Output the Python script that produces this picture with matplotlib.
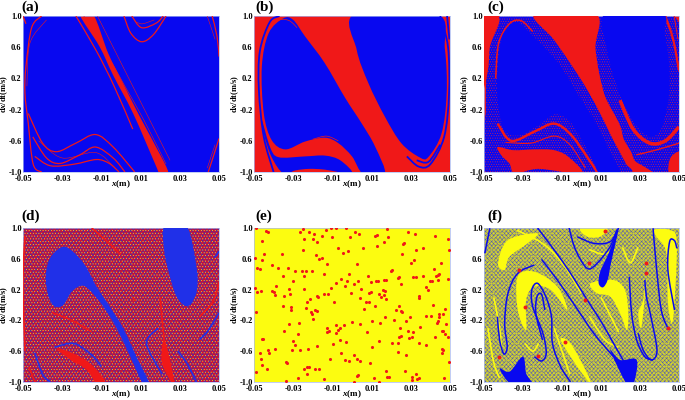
#!/usr/bin/env python3

import matplotlib
matplotlib.use('Agg')
import matplotlib.pyplot as plt
from matplotlib.path import Path
from matplotlib.patches import PathPatch, Rectangle

RED = '#f01818'
BLUE = '#0808f0'
YELLOW = '#fcfc10'

x_ticks = [-0.05, -0.03, -0.01, 0.01, 0.03, 0.05]
y_ticks = [-1.0, -0.6, -0.2, 0.2, 0.6, 1.0]
panel_names = ['(a)', '(b)', '(c)', '(d)', '(e)', '(f)']

# panel a: blue basin with red stripes
a_stripe = [(-0.0210, 1.02), (-0.0110, 0.61), (-0.0040, 0.24), (0.0062, -0.25), (0.0173, -0.89), (0.0198, -1.02),
            (0.0240, -1.02), (0.0215, -0.85), (0.0096, -0.29), (0.0010, 0.14), (-0.0065, 0.52), (-0.0142, 1.02)]
a_lines = [
    [(-0.0405, 1), (-0.0456, 0.85), (-0.0485, 0.35), (-0.0490, 0.01), (-0.0473, -0.38), (-0.0448, -0.9), (-0.0405, -1)],
    [(-0.0230, 1), (-0.0125, 0.55), (-0.0035, 0.1), (0.0060, -0.45)],
    [(-0.0473, -0.25), (-0.0400, -0.63), (-0.0330, -0.74), (-0.0230, -0.63), (-0.0130, -0.52), (-0.0040, -0.68), (0.0070, -1)],
    [(-0.0450, -0.55), (-0.0380, -0.82), (-0.0310, -0.89), (-0.0210, -0.78), (-0.0130, -0.68), (-0.0040, -0.82), (0.0020, -1)],
    [(-0.0440, -0.8), (-0.0360, -0.92), (-0.0240, -0.9), (-0.0125, -0.84), (-0.0060, -0.89), (-0.0010, -1)],
    [(0.0015, 1), (0.0050, 0.78), (0.0105, 0.67), (0.0165, 0.76), (0.0230, 1)],
    [(0.0055, 1), (0.0105, 0.85), (0.0180, 0.91), (0.0215, 1)],
    [(0.0465, 1), (0.0490, 0.74), (0.0500, 0.48)],
    [(0.0500, -0.57), (0.0470, -0.81), (0.0445, -1)],
    [(-0.0500, 1), (-0.0485, 0.9)],
]
a_dotted = [
    [(-0.0380, 0.95), (-0.0465, 0.65), (-0.0480, 0.1)],
    [(-0.0420, -0.6), (-0.0300, -0.82), (-0.0130, -0.75), (-0.0030, -0.95)],
    [(0.0440, 1), (0.0480, 0.7)],
    [(0.0480, -0.65), (0.0440, -0.95)],
    [(-0.0190, 1), (-0.0080, 0.55), (0.0020, 0.1), (0.0120, -0.35), (0.0230, -0.9)],
    [(-0.0120, 1), (-0.0040, 0.6), (0.0040, 0.2), (0.0140, -0.3), (0.0250, -0.85)],
    [(0.0080, 0.92), (0.0110, 0.9), (0.0170, 0.95)],
]

# panel b: red basin with blue regions
b_right = [(0.0015, 1.03), (0.0024, 0.566), (0.0084, 0.137), (0.0168, -0.292), (0.0253, -0.635), (0.0347, -0.815),
           (0.0390, -0.807), (0.0457, -0.506), (0.0483, 0.009), (0.0474, 0.575), (0.0432, 1.03)]
b_left = [(-0.0350, 0.97), (-0.0300, 0.95), (-0.0240, 0.74), (-0.0140, 0.4), (-0.0035, -0.05), (0.0050, -0.38),
          (0.0117, -0.67), (0.0168, -1.03), (0.0059, -1.03), (0.0000, -0.8), (-0.0070, -0.63), (-0.0138, -0.56),
          (-0.0240, -0.61), (-0.0340, -0.71), (-0.0410, -0.59), (-0.0450, -0.25), (-0.0460, 0.35), (-0.0425, 0.78)]
b_low = [(-0.0460, -0.33), (-0.0418, -0.68), (-0.0375, -0.81), (-0.0240, -0.80), (-0.0138, -0.79), (-0.0060, -0.85),
         (0.0000, -1.02), (-0.0138, -0.97), (-0.0220, -0.96), (-0.0290, -0.98), (-0.0350, -1.02), (-0.0410, -0.81),
         (-0.0450, -0.51)]
b_blue_lines = [
    [(-0.0370, 1), (-0.0420, 0.92), (-0.0470, 0.55), (-0.0475, 0.05), (-0.0450, -0.55), (-0.0400, -1)],
    [(0.0450, 1), (0.0490, 0.6), (0.0495, 0.0), (0.0470, -0.55), (0.0400, -0.9), (0.0340, -0.93), (0.0280, -0.8)],
    [(0.0485, 1), (0.0497, 0.7)],
    [(0.0330, -0.85), (0.0390, -0.87), (0.0450, -0.65)],
]
b_red_lines = [
    [(-0.0420, 0.85), (-0.0370, 0.95), (-0.0320, 0.94), (-0.0280, 0.85)],
    [(-0.0200, -0.58), (-0.0130, -0.54), (-0.0070, -0.6)],
]

# panel c: red basin, speckled bands and solid blue ovals
c_band_left = [(-0.0470, 1.03), (-0.0250, 1.03), (-0.0022, 0.26), (0.0080, -0.17), (0.0165, -0.6), (0.0225, -0.88), (0.0200, -1.03),
               (-0.0480, -1.03), (-0.0490, -0.2), (-0.0480, 0.5), (-0.0420, 0.95)]
c_band_right = [(0.0070, 1.03), (0.0070, 0.57), (0.0115, 0.01), (0.0182, -0.42), (0.0250, -0.72), (0.0300, -0.9),
                (0.0520, -1.03), (0.0520, 0.4), (0.0455, 1.03)]
c_left_oval = [(-0.0430, 0.35), (-0.0405, 0.74), (-0.0335, 0.92), (-0.0240, 0.72), (-0.0120, 0.4), (-0.0020, 0.0),
               (0.0065, -0.34), (0.0150, -0.77), (0.0200, -1.03), (0.0098, -1.03), (0.0050, -0.81), (-0.0050, -0.38),
               (-0.0135, -0.26), (-0.0220, -0.40), (-0.0320, -0.53), (-0.0395, -0.46), (-0.0430, -0.08)]
c_right_oval = [(0.0123, 1.03), (0.0131, 0.57), (0.0182, 0.09), (0.0250, -0.29), (0.0335, -0.53), (0.0403, -0.47),
                (0.0445, -0.08), (0.0450, 0.35), (0.0427, 0.78), (0.0410, 1.03)]
c_red_wedge = [(-0.0240, 1.03), (-0.0140, 0.69), (-0.0020, 0.26), (0.0080, -0.17), (0.0165, -0.59), (0.0224, -0.87),
               (0.0225, -0.8), (0.0200, -0.42), (0.0115, 0.01), (0.0072, 0.57), (0.0072, 1.03)]
c_red_corner = [(-0.0520, 1.03), (-0.0420, 1.03), (-0.0465, 0.75), (-0.0480, 0.3), (-0.0520, 0)]
c_red_blob = [(-0.0430, -0.68), (-0.0350, -0.72), (-0.0240, -0.71), (-0.0140, -0.72), (-0.0065, -0.81),
              (0.0000, -1.02), (-0.0220, -0.96), (-0.0340, -1.02), (-0.0370, -0.89), (-0.0410, -0.79)]
c_red_corner2 = [(0.0450, -1.02), (0.0458, -0.81), (0.0520, -0.74), (0.0520, -1.02)]
c_red_lines = [
    [(-0.0440, 0.2), (-0.0425, 0.65), (-0.0370, 0.9), (-0.0310, 0.94), (-0.0250, 0.8)],
    [(-0.0430, -0.38), (-0.0360, -0.6), (-0.0240, -0.48), (-0.0140, -0.38), (-0.0055, -0.52), (0.0030, -0.81), (0.0080, -1)],
    [(-0.0390, -0.62), (-0.0260, -0.63), (-0.0140, -0.54), (-0.0060, -0.65), (0.0020, -0.95)],
    [(0.0198, -0.08), (0.0265, -0.45), (0.0350, -0.63), (0.0430, -0.6), (0.0500, -0.42)],
    [(0.0280, -0.78), (0.0380, -0.72), (0.0500, -0.63)],
    [(0.0430, 1), (0.0470, 0.7), (0.0500, 0.3)],
    [(0.0475, 1), (0.0495, 0.7)],
]
c_red_widths = [1.1, 1.8, 0.8, 2.6, 1.0, 1.6, 0.7]

# panel d: speckled background with two blue islands
d_blob1 = [(-0.0303, 0.75), (-0.0252, 0.71), (-0.0184, 0.52), (-0.0125, 0.24), (-0.0057, -0.02), (0.0011, -0.3),
           (0.0079, -0.67), (0.0147, -1.03), (0.0113, -1.03), (0.0054, -0.71), (-0.0023, -0.3), (-0.0091, -0.02),
           (-0.0159, 0.19), (-0.0201, 0.25), (-0.0252, 0.17), (-0.0294, 0.0), (-0.0337, -0.02), (-0.0370, 0.11),
           (-0.0384, 0.37), (-0.0362, 0.61)]
d_blob2 = [(0.0223, 1.03), (0.0334, 1.03), (0.0385, 0.5), (0.0388, 0.2), (0.0359, 0.02), (0.0325, -0.01),
           (0.0283, 0.11), (0.0249, 0.37), (0.0220, 0.71)]
d_red1 = [(-0.0328, -0.56), (-0.0226, -0.65), (-0.0141, -0.8), (-0.0073, -1.03), (-0.0124, -1.03), (-0.0175, -0.84),
          (-0.0260, -0.71)]
d_red2 = [(0.0223, -0.45), (0.0274, -1.03), (0.0240, -0.93), (0.0206, -0.71)]
d_blue_lines = [
    [(0.0385, -1), (0.0335, -0.75), (0.0290, -0.6)],
    [(-0.0340, -0.55), (-0.0240, -0.5), (-0.0150, -0.65), (-0.0100, -0.8)],
    [(-0.0440, -0.62), (-0.0400, -0.9), (-0.0360, -1)],
    [(0.0190, -0.3), (0.0130, -0.5), (0.0210, -0.9)],
    [(0.0500, -0.1), (0.0440, -0.35), (0.0400, -0.45)],
    [(0.0500, 0.7), (0.0480, 0.62)],
]
d_red_lines = [
    [(-0.0490, 0.9), (-0.0500, 0.3), (-0.0490, -0.6)],
    [(-0.0470, -0.8), (-0.0440, -1)],
    [(0.0500, 0.3), (0.0470, 0.05), (0.0400, -0.15)],
    [(-0.0150, 1), (-0.0080, 0.85), (0.0000, 0.65)],
    [(0.0060, 0.1), (0.0070, 0.05)],
    [(-0.0350, -0.1), (-0.0250, -0.2), (-0.0150, -0.35)],
    [(0.0200, 0.1), (0.0210, -0.2), (0.0220, -0.45)],
]

# panel e: red points on yellow
e_x = [-.0488, -.0439, -.0429, -.0457, -.0493, -.0449, -.0461, -.0483, -.0468, -.0408, -.0376, -.0355, -.0327, -.0354,
       -.0289, -.0303, -.0253, -.0235, -.0247, -.0206, -.0388, -.0493, -.0485, -.0464, -.0408, -.0396, -.0391, -.0345,
       -.0315, -.0323, -.0247, -.0350, -.0313, -.0309, -.0490, -.0231, -.0213, -.0235, -.0179, -.0173, -.0189, -.0180,
       -.0207, -.0202, -.0199, -.0320, -.0270, -.0349, -.0277, -.0461, -.0454, -.0301, -.0293, -.0304, -.0395, -.0430,
       -.0423, -.0471, -.0462, -.0461, -.0435, -.0491, -.0337, -.0330, -.0264, -.0226, -.0177, -.0243, -.0230, -.0219,
       -.0230, -.0274, -.0190, -.0168, -.0338, -.0265, -.0252, -.0221, -.0192, -.0247, -.0201, -.0179, -.0250, -.0185,
       -.0168, -.0151, -.0129, -.0155, -.0133, -.0107, -.0083, -.0104, -.0029, -.0073, -.0044, -.0020, -.0010, .0014,
       .0037, .0026, .0054, -.0145, -.0145, -.0121, -.0105, -.0082, -.0058, -.0036, -.0024, -.0017, .0032, .0012, .0048,
       .0039, -.0090, -.0007, .0073, .0088, .0063, .0116, .0085, .0097, .0082, .0099, .0124, .0133, .0163, .0173, .0156,
       .0168, .0138, .0148, .0163, .0173, .0197, .0204, .0119, .0129, .0180, .0182, .0128, .0162, .0236, .0238, .0248,
       .0241, .0224, .0250, .0255, .0287, .0320, .0264, .0262, .0253, .0327, .0362, .0315, .0301, .0313, .0328, .0364,
       .0400, .0406, .0376, .0386, .0427, .0418, .0452, .0440, .0442, .0440, .0490, .0491, .0497, .0423, .0344, .0342,
       .0413, .0473, .0463, .0444, .0442, .0401, .0379, .0437, .0435, .0481, .0457, .0466, .0476, .0425, .0488, .0457,
       .0463, .0457, .0493, .0470, -.0128, -.0119, -.0129, -.0083, -.0083, -.0070, -.0043, -.0060, -.0002, .0043, .0078,
       .0102, .0143, .0168, .0214, .0245, .0241, .0250, .0284, .0296, .0274, .0313, .0308, .0293, .0347, .0344, .0376,
       -.0099, -.0060, -.0032, .0100, .0138, .0204, .0236, .0236, .0274, -.0112, -.0054, -.0034, -.0014, .0012, .0026,
       .0043, .0090, .0173, .0177, .0189, .0272, .0112, .0026, .0032, .0009, .0136, -.0141, .0304, .0308, .0327, .0333,
       .0340]
e_y = [.995, .957, .952, .830, .615, .667, .580, .476, .463, .515, .485, .658, .485, .377, .440, .310, .437, .440,
       .372, .446, .250, .225, .169, .186, .177, .165, .134, .121, .139, .212, .203, -.009, -.026, -.060, -.087, .043,
       .074, -.043, .117, .100, -.060, -.074, -.095, -.121, -.182, -.242, -.229, -.338, -.377, -.437, -.446, -.472,
       -.524, -.584, -.571, -.584, -.619, -.623, -.697, -.775, -.835, -.874, -.736, -.749, -.589, -.576, -.528, -.831,
       -.810, -.805, -.892, -.948, -.835, -.835, -.983, .944, .987, .952, .918, .861, .861, .818, .719, .645, .602,
       .615, .532, .896, .970, 1.0, .995, .887, .995, .745, .671, .697, .887, .944, .926, .537, .745, .403, .143, .143,
       .225, .290, .342, .242, .316, .403, .316, .273, .203, .095, .035, .160, .043, .043, -.048, -.013, .152, .173,
       .372, .299, .307, .307, .320, .329, .190, .177, .143, .104, .126, .082, .446, .455, .892, .909, .987, .887, .770,
       .822, .346, .364, .268, -.013, -.065, -.082, -.091, .944, .926, .801, .788, .667, .719, .736, .589, .550, .368,
       .364, .372, .312, .312, .229, .195, .377, .468, .541, .390, .407, .320, .333, .861, .719, .900, .117, .087, 0.0,
       -.048, -.121, -.113, -.152, -.143, -.147, -.203, -.229, -.251, -.333, -.338, -.377, -.411, -.416, -.567, -.589,
       -.623, -.736, -.952, -.294, -.338, -.346, -.260, -.368, -.329, -.260, -.299, -.221, -.242, -.355, -.203, -.238,
       -.160, -.195, -.303, -.411, -.403, -.342, -.152, -.203, -.346, -.411, -.429, -.290, -.489, -.519, -.502, -.450,
       -.476, -.545, -.472, -.489, -.498, -.606, -.649, -.697, -.623, -.710, -.723, -.654, -.706, -.723, -.758, -.857,
       -.931, -.931, -.853, -.952, -.918, -.905, -.996, -1.0, -.961, -.939, -.974, -.892, -.961, -.952]

# panel f: speckled yellow/blue with spiral arms
f_yellow = [
    [(-.0428, .541), (-.0377, .844), (-.0225, .931), (-.0276, .801), (-.0369, .628), (-.0394, .455)],
    [(-.0327, .368), (-.0242, .433), (-.0123, .238), (-.0073, -.065), (-.0157, .195), (-.0242, .238), (-.0284, .065),
     (-.0284, -.325), (-.0327, -.065)],
    [(-.0107, -.455), (-.0056, -.498), (.0029, -.887), (.0046, -1.02), (-.0022, -.801)],
    [(.0046, .281), (.0164, .325), (.0223, .195), (.0240, -.108), (.0232, -.325), (.0198, -.108), (.0147, .108), (.0079, .152)],
    [(.0367, .974), (.0452, .974), (.0489, .801), (.0469, -.195), (.0443, .022), (.0435, .671), (.0384, .887)],
    [(.0316, .065), (.0333, .368), (.0308, -.281), (.0291, -.108)],
    [(-.0005, 1.0), (.0130, 1.0), (.0096, .887), (.0029, .887)],
]
f_yellow_lines = [
    [(-.0450, .1), (-.0420, -.3), (-.0410, -.6)],
    [(-.0330, .97), (-.0200, .8), (-.0100, .55), (.0000, .15)],
    [(-.0140, -.3), (-.0100, -.6), (-.0060, -.9)],
    [(.0040, -.15), (.0120, -.45), (.0190, -.55)],
    [(.0040, .72), (.0110, .66), (.0170, .72)],
    [(.0100, .1), (.0150, -.15), (.0190, -.35)],
    [(.0210, .75), (.0250, .55), (.0290, .75)],
    [(-.0480, -.3), (-.0450, -.75), (-.0420, -.95)],
    [(-.0290, -.5), (-.0250, -.6), (-.0220, -.5)],
]
f_wedges = [
    [(.0147, -.584), (.0198, -.714), (.0283, -.714), (.0266, -1.03), (.0232, -1.03)],
    [(-.0420, -.823), (-.0369, -.866), (-.0301, -.671), (-.0284, -.887), (-.0256, -1.03), (-.0360, -1.03)],
    [(.0088, .281), (.0110, .229), (.0134, .325), (.0151, .541), (.0190, .996), (.0139, .671), (.0096, .433)],
]
f_lines = [
    [(-.0225, 1), (-.0140, .714), (-.0056, .411), (.0029, .065), (.0096, -.195), (.0164, -.498), (.0231, -.801), (.0257, -1)],
    [(-.0205, .593), (-.0124, .325), (-.0030, -.022), (.0063, -.368), (.0164, -.671)],
    [(-.0431, -.152), (-.0420, -.455), (-.0398, -.636), (-.0381, -.541), (-.0394, -.238), (-.0377, .152), (-.0327, .411), (-.0242, .519)],
    [(-.0242, -.671), (-.0205, -.727), (-.0181, -.628), (-.0198, -.368), (-.0250, -.022), (-.0255, .195), (-.0225, .281),
     (-.0183, .108), (-.0154, -.152), (-.0149, -.498), (-.0107, -.801), (-.0056, -1)],
    [(-.0200, -.455), (-.0234, -.108), (-.0228, .108), (-.0205, .139), (-.0188, -.065)],
    [(.0291, -.368), (.0316, -.584), (.0359, -.714), (.0387, -.584), (.0354, -.130), (.0333, .108), (.0325, .325)],
    [(.0245, .368), (.0257, -.108), (.0283, -.455), (.0325, -.671), (.0367, -.714)],
    [(.0477, -.065), (.0443, .455), (.0452, .823), (.0477, .835), (.0489, .736)],
    [(-.0064, 1), (-.0030, .714), (.0029, .476), (.0080, .541), (.0147, .758), (.0181, .974)],
    [(-.0022, .887), (.0063, .801), (.0147, .822), (.0190, 1)],
    [(-.0496, .671), (-.0470, .996)],
    [(.0367, .996), (.0384, .498), (.0409, -.065), (.0443, -.303)],
]
f_star_x = [0.0122, 0.0041, -0.0318, -0.0288, 0.0017, -0.0084, -0.0225, -0.0425, 0.0333, 0.0333, 0.0444]
f_star_y = [0.96, 0.54, 0.45, -0.02, 0.06, -0.48, -0.66, -0.68, 0.54, 0.41, -0.30]

axes_px = [(23, 16, 196, 156), (254, 16, 196, 156), (484, 16, 195, 156),
           (23, 228, 196, 154), (254, 228, 196, 154), (484, 228, 195, 154)]
label_px = [(21, 11), (255, 11), (487, 11), (21, 220), (255, 220), (487, 220)]


def smooth_path(pts, closed=False):
    # bezier through the vertices, so curves do not show corners
    n = len(pts)
    verts = [pts[0]]
    codes = [Path.MOVETO]
    stop = n if closed else n - 1
    for i in range(stop):
        if closed:
            p0, p1, p2, p3 = pts[(i - 1) % n], pts[i], pts[(i + 1) % n], pts[(i + 2) % n]
        else:
            p0, p1, p2, p3 = pts[max(i - 1, 0)], pts[i], pts[i + 1], pts[min(i + 2, n - 1)]
        c1 = (p1[0] + (p2[0] - p0[0]) / 6, p1[1] + (p2[1] - p0[1]) / 6)
        c2 = (p2[0] - (p3[0] - p1[0]) / 6, p2[1] - (p3[1] - p1[1]) / 6)
        verts += [c1, c2, p2]
        codes += [Path.CURVE4, Path.CURVE4, Path.CURVE4]
    return Path(verts, codes)


def fill_shape(ax, pts, color, zorder=2):
    ax.add_patch(PathPatch(smooth_path(pts, True), facecolor=color, edgecolor='none', lw=0, zorder=zorder))


def fill_speckled(ax, pts, color, dots, zorder=2):
    ax.add_patch(PathPatch(smooth_path(pts, True), facecolor=color, edgecolor=dots, hatch='.......', lw=0, zorder=zorder))


def draw_lines(ax, lines, color, lw=1.0, zorder=3):
    for pts in lines:
        ax.add_patch(PathPatch(smooth_path(pts), facecolor='none', edgecolor=color, lw=lw, zorder=zorder))


def speckle_background(ax, base, layers):
    ax.add_patch(Rectangle((-0.05, -1), 0.1, 2, facecolor=base, lw=0, zorder=0))
    for hatch, color in layers:
        ax.add_patch(Rectangle((-0.05, -1), 0.1, 2, facecolor='none', edgecolor=color, hatch=hatch, lw=0, zorder=1))


def panel_a(ax):
    ax.set_facecolor(BLUE)
    fill_shape(ax, a_stripe, RED)
    draw_lines(ax, a_lines, RED, lw=0.9)
    draw_lines(ax, a_dotted, RED, lw=0.4)


def panel_b(ax):
    ax.set_facecolor(RED)
    fill_shape(ax, b_right, BLUE)
    fill_shape(ax, b_left, BLUE)
    fill_shape(ax, b_low, BLUE)
    draw_lines(ax, b_blue_lines, BLUE, lw=1.3)
    draw_lines(ax, b_red_lines, RED, lw=0.5, zorder=4)


def panel_c(ax):
    ax.set_facecolor(RED)
    fill_speckled(ax, c_band_left, BLUE, '#d02050')
    fill_speckled(ax, c_band_right, BLUE, '#d02050')
    for shape in [c_red_wedge, c_red_corner, c_red_blob, c_red_corner2]:
        fill_shape(ax, shape, RED, zorder=3)
    for pts, width in zip(c_red_lines, c_red_widths):
        draw_lines(ax, [pts], RED, lw=width, zorder=4)
    fill_shape(ax, c_left_oval, BLUE, zorder=5)
    fill_shape(ax, c_right_oval, BLUE, zorder=5)


def panel_d(ax):
    speckle_background(ax, '#c81038', [('xxxxxxx', '#3030c0'), ('////', '#e01020'), ('......', '#f8c830')])
    fill_shape(ax, d_blob1, '#2030e8', zorder=3)
    fill_shape(ax, d_blob2, '#2030e8', zorder=3)
    fill_shape(ax, d_red1, RED, zorder=3)
    fill_shape(ax, d_red2, RED, zorder=3)
    draw_lines(ax, d_blue_lines, '#2030e8', lw=1.2)
    draw_lines(ax, d_red_lines, RED, lw=1.2)


def panel_e(ax):
    ax.set_facecolor(YELLOW)
    ax.scatter(e_x, e_y, s=5, color=RED, marker='o', lw=0, zorder=3)


def panel_f(ax):
    speckle_background(ax, '#c8c838', [('xxxxxxxx', '#5058b8'), ('.....', '#e8e820')])
    for pts in f_yellow:
        fill_shape(ax, pts, YELLOW, zorder=2)
    draw_lines(ax, f_yellow_lines, YELLOW, lw=1.2, zorder=2)
    for pts in f_wedges:
        fill_shape(ax, pts, BLUE, zorder=3)
    draw_lines(ax, f_lines, BLUE, lw=1.1, zorder=3)
    ax.scatter(f_star_x, f_star_y, s=8, color=RED, lw=0, zorder=4)


def style_axes(ax, px):
    ax.set_xlim(-0.05, 0.05)
    ax.set_ylim(-1, 1)
    ax.set_xticks(x_ticks)
    ax.set_xticklabels(['%.2f' % t for t in x_ticks])
    ax.set_yticks(y_ticks)
    ax.set_yticklabels(['%.1f' % t for t in y_ticks])
    ax.tick_params(length=0, labelsize=6)
    ax.tick_params(axis='x', pad=2.5)
    ax.tick_params(axis='y', pad=1)
    for lab in ax.get_xticklabels() + ax.get_yticklabels():
        lab.set_fontweight('bold')
    for sp in ax.spines.values():
        sp.set_color('#a8b8f0')
        sp.set_linewidth(0.5)
    ax.set_xlabel(r'$\mathbfit{x}$(m)', fontsize=6.5, fontweight='bold', va='center')
    ax.xaxis.set_label_coords(0.5, -12.0 / px[3])
    ax.set_ylabel(r'd$\mathbfit{x}$/dt(m/s)', fontsize=6, fontweight='bold', va='center')
    ax.yaxis.set_label_coords(-19.0 / px[2], 0.5)


def __main__():
    plt.rcParams['font.family'] = ['Liberation Serif', 'DejaVu Serif']
    plt.rcParams['mathtext.fontset'] = 'custom'
    plt.rcParams['mathtext.rm'] = 'Liberation Serif:bold'
    plt.rcParams['mathtext.bfit'] = 'Liberation Serif:italic:bold'
    plt.rcParams['hatch.linewidth'] = 0.35

    fig = plt.figure(figsize=(6.85, 4.0), dpi=100)
    W, H = 685.0, 400.0
    drawers = [panel_a, panel_b, panel_c, panel_d, panel_e, panel_f]
    for name, px, lab, draw in zip(panel_names, axes_px, label_px, drawers):
        left, top, w, h = px
        ax = fig.add_axes([left / W, 1 - (top + h) / H, w / W, h / H])
        draw(ax)
        style_axes(ax, px)
        fig.text(lab[0] / W, 1 - lab[1] / H, name, fontsize=11, fontweight='bold', ha='left', va='baseline')
    fig.savefig('out.png', dpi=100)


if __name__ == '__main__':
    __main__()
